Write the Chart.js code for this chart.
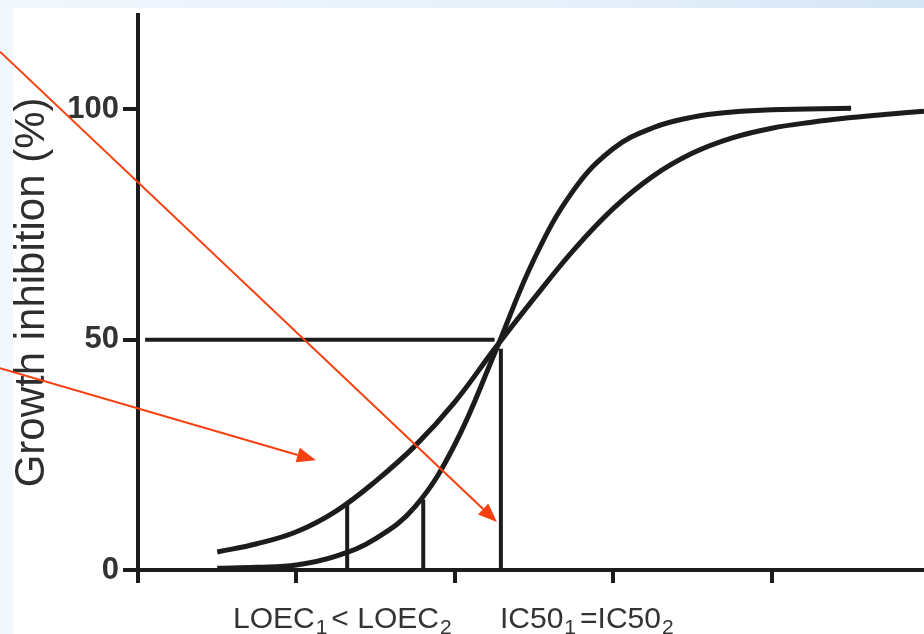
<!DOCTYPE html>
<html>
<head>
<meta charset="utf-8">
<script src="https://cdn.jsdelivr.net/npm/chart.js@4/dist/chart.umd.min.js"></script>
<style>
  body { margin: 0; background: #f2f7fd; }
  canvas { display: block; }
</style>
</head>
<body>
<canvas id="myChart" width="924" height="634"></canvas>
<script>
// curve 1 (shallow) and curve 2 (steep), x in log-dose tick units
const curve1X = [0.50, 0.75, 1.00, 1.25, 1.50, 1.75, 2.00, 2.25, 2.50, 2.75, 3.00, 3.25, 3.50, 3.75, 4.00, 4.25, 4.50, 4.75, 4.96];
const curve1Y = [3.9, 5.7, 8.3, 12.8, 19.3, 27.0, 36.5, 48.0, 59.0, 69.5, 78.5, 85.5, 90.5, 93.8, 95.9, 97.2, 98.2, 99.0, 99.6];
const curve2X = [0.50, 0.75, 1.00, 1.25, 1.50, 1.75, 2.00, 2.25, 2.50, 2.75, 3.00, 3.25, 3.50, 3.75, 4.00, 4.50];
const curve2Y = [0.4, 0.6, 1.1, 3.0, 6.8, 13.8, 27.3, 47.0, 67.5, 82.5, 91.5, 96.0, 98.3, 99.4, 99.9, 100.2];

// LOEC1, LOEC2 and the shared IC50
const loecX = [1.32, 1.80];
const loecY = [14.5, 15.3];
const ic50X = 2.29;
const ic50Y = 50;
const ic50Top = 48;
const halfLine = [0.045, 2.25];

const xTicks = [0, 1, 2, 3, 4];
const yTicks = [0, 50, 100];
const yTitle = 'Growth inhibition (%)';

// red arrows: [startX, startY, tipX, tipY] in data units
const arrowA = [-0.871, 112.5, 2.265, 10.4];
const arrowB = [-0.871, 43.8, 1.123, 23.8];

const ink = '#1c1c1c';
const arrowRed = '#f7400f';
const fontFam = '"Liberation Sans", Arial, sans-serif';

const toPoints = (xs, ys) => xs.map((x, i) => ({x: x, y: ys[i]}));

const lineSet = (pts, width, smooth) => ({
    data: pts,
    borderColor: ink,
    borderWidth: width,
    pointRadius: 0,
    fill: false,
    tension: smooth ? 0.4 : 0,
    clip: false
});

const datasets = [
    lineSet(toPoints(curve1X, curve1Y), 5, true),
    lineSet(toPoints(curve2X, curve2Y), 5, true),
    lineSet([{x: halfLine[0], y: ic50Y}, {x: halfLine[1], y: ic50Y}], 4, false),
    lineSet([{x: ic50X, y: 0}, {x: ic50X, y: ic50Top}], 4, false),
    lineSet([{x: loecX[0], y: 0}, {x: loecX[0], y: loecY[0]}], 4, false),
    lineSet([{x: loecX[1], y: 0}, {x: loecX[1], y: loecY[1]}], 4, false)
];

const backdrop = {
    id: 'backdrop',
    beforeDraw(chart) {
        const ctx = chart.ctx;
        ctx.save();
        ctx.fillStyle = '#f2f7fd';
        ctx.fillRect(0, 0, chart.width, chart.height);
        const g = ctx.createLinearGradient(0, 0, chart.width, 0);
        g.addColorStop(0, '#f1f7fd');
        g.addColorStop(0.6, '#e6f0fa');
        g.addColorStop(1, '#d6e6f6');
        ctx.fillStyle = g;
        ctx.fillRect(0, 0, chart.width, 8);
        ctx.fillStyle = '#ffffff';
        ctx.fillRect(13, 8, chart.width - 13, chart.height - 8);
        ctx.restore();
    }
};

const extras = {
    id: 'extras',
    afterDraw(chart) {
        const ctx = chart.ctx;
        const xs = chart.scales.x, ys = chart.scales.y;
        ctx.save();
        // arrows
        [arrowA, arrowB].forEach(a => {
            const x0 = xs.getPixelForValue(a[0]), y0 = ys.getPixelForValue(a[1]);
            const x1 = xs.getPixelForValue(a[2]), y1 = ys.getPixelForValue(a[3]);
            const ang = Math.atan2(y1 - y0, x1 - x0);
            const len = 19, half = 7.5;
            ctx.strokeStyle = arrowRed;
            ctx.lineWidth = 2;
            ctx.beginPath();
            ctx.moveTo(x0, y0);
            ctx.lineTo(x1 - len * Math.cos(ang), y1 - len * Math.sin(ang));
            ctx.stroke();
            ctx.fillStyle = arrowRed;
            ctx.beginPath();
            ctx.moveTo(x1, y1);
            ctx.lineTo(x1 - len * Math.cos(ang) + half * Math.sin(ang), y1 - len * Math.sin(ang) - half * Math.cos(ang));
            ctx.lineTo(x1 - len * Math.cos(ang) - half * Math.sin(ang), y1 - len * Math.sin(ang) + half * Math.cos(ang));
            ctx.closePath();
            ctx.fill();
        });
        // label under the axis, with subscripts
        const groups = [
            {x: 233, parts: [['LOEC', 0], ['1', 1], ['< LOEC', 0], ['2', 1]]},
            {x: 500, parts: [['IC50', 0], ['1', 1], ['=IC50', 0], ['2', 1]]}
        ];
        const base = 628;
        ctx.fillStyle = '#333333';
        ctx.textBaseline = 'alphabetic';
        ctx.textAlign = 'left';
        groups.forEach(gr => {
            let x = gr.x;
            gr.parts.forEach(p => {
                ctx.font = p[1] ? '21px ' + fontFam : '30px ' + fontFam;
                ctx.fillText(p[0], x + (p[1] ? 1 : 0), base + (p[1] ? 6 : 0));
                x += ctx.measureText(p[0]).width + (p[1] ? 5 : 0);
            });
        });
        ctx.restore();
    }
};

const config = {
    type: 'line',
    data: { datasets: datasets },
    options: {
        responsive: false,
        animation: false,
        layout: { padding: { left: 0, top: 12, right: 0, bottom: 0 } },
        plugins: { legend: { display: false }, tooltip: { enabled: false } },
        scales: {
            x: {
                type: 'linear',
                min: 0,
                max: 4.96,
                afterBuildTicks: s => { s.ticks = xTicks.map(v => ({value: v})); },
                afterFit: s => { s.height = 64; },
                ticks: { display: false },
                grid: { drawOnChartArea: false, drawTicks: true, tickLength: 13, lineWidth: 4, color: ink },
                border: { display: true, width: 4, color: ink }
            },
            y: {
                type: 'linear',
                min: 0,
                max: 120.5,
                afterBuildTicks: s => { s.ticks = yTicks.map(v => ({value: v})); },
                afterFit: s => { s.width = 138; },
                ticks: {
                    color: '#333333',
                    padding: 4,
                    font: { family: fontFam, size: 31, weight: 'bold', lineHeight: 0.7 }
                },
                grid: { drawOnChartArea: false, drawTicks: true, tickLength: 15, lineWidth: 4, color: ink },
                border: { display: true, width: 4, color: ink },
                title: {
                    display: true,
                    text: yTitle,
                    color: '#2e2e2e',
                    padding: { top: 7, bottom: 0 },
                    font: { family: fontFam, size: 42, weight: 'normal' }
                }
            }
        }
    },
    plugins: [backdrop, extras]
};

const myChart = new Chart(document.getElementById('myChart'), config);
</script>
</body>
</html>
